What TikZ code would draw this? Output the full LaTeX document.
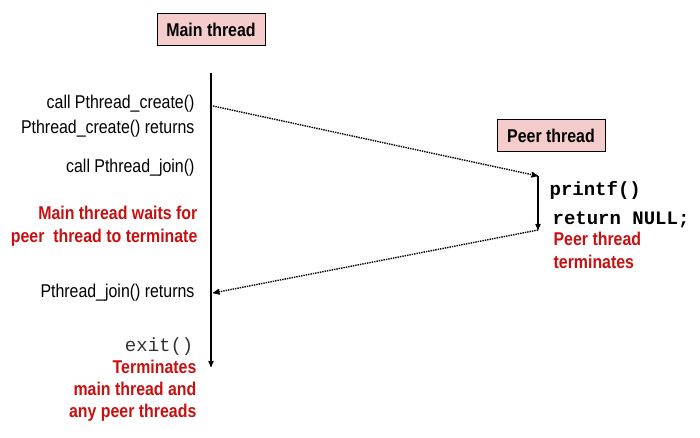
\documentclass[tikz,border=0pt]{standalone}
\usepackage{fontspec}
\setmainfont[FakeStretch=0.86]{Liberation Sans}
\setmonofont{Liberation Mono}
\usetikzlibrary{arrows}
\definecolor{boxPink}{RGB}{244,204,204}
\definecolor{noteRed}{RGB}{200,16,16}
\tikzset{
     threadBox/.style =
        { draw
        , fill=boxPink
        , line width=1pt
        , minimum width=108pt
        , minimum height=32pt
        , font=\fontsize{18.5}{20}\selectfont\bfseries
        }
   , callLabel/.style =
        { anchor=east
        , inner sep=0pt
        , font=\fontsize{18.5}{20}\selectfont
        }
   , noteLabel/.style =
        { align=right
        , inner sep=0pt
        , text=noteRed
        , font=\fontsize{18.5}{23}\selectfont\bfseries
        }
   , codeLabel/.style =
        { anchor=west
        , inner sep=0pt
        , font=\fontsize{19}{20}\selectfont\ttfamily\bfseries
        }
   , jump/.style =
        { ->
        , densely dotted
        , line width=1.4pt
        }
}
\begin{document}
\begin{tikzpicture}
            [ x=1pt
            , y=-1pt
            , >=stealth'
            , line width=1.2pt
            ]
            \useasboundingbox (0,0) rectangle (700,438);

            % thread headers
            \node[threadBox] (main) at (211,30) {Main thread};
            \node[threadBox] (peer) at (551,136) {Peer thread};

            % time lines
            \coordinate (mainTop) at (211,73);
            \coordinate (mainEnd) at (211,367);
            \coordinate (create) at (213,106);
            \coordinate (joined) at (213,293);
            \coordinate (peerTop) at (538,176);
            \coordinate (peerEnd) at (538,230);

            \draw[->] (mainTop) -- (mainEnd);
            \draw[->] (peerTop) -- (peerEnd);
            \draw[jump] (create) -- (peerTop);
            \draw[jump] (peerEnd) -- (joined);

            % main thread labels
            \node[callLabel] (c1) at (195,104) {call Pthread\_create()};
            \node[callLabel] (c2) at (195,129) {Pthread\_create() returns};
            \node[callLabel] (c3) at (195,168) {call Pthread\_join()};
            \node[noteLabel, anchor=east] (w) at (198,226)
                {Main thread waits for\\peer\ \ thread to terminate};
            \node[callLabel] (c4) at (195,293) {Pthread\_join() returns};
            \node[callLabel, font=\fontsize{19}{20}\selectfont\ttfamily,
                  text=black!80] (ex) at (194,347) {exit()};
            \node[noteLabel, anchor=north east, font=\fontsize{18.5}{22}\selectfont\bfseries]
                (t) at (197,359) {Terminates\\main thread and\\any peer threads};

            % peer thread labels
            \node[codeLabel] (pf) at (549,190) {printf()};
            \node[codeLabel] (rn) at (552,220) {return NULL;};
            \node[noteLabel, align=left, anchor=north west] (pt) at (553,231)
                {Peer thread\\terminates};
        \end{tikzpicture}
\end{document}
